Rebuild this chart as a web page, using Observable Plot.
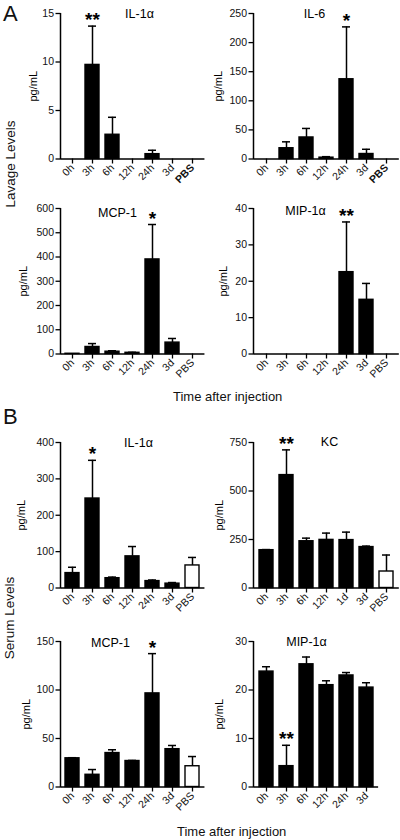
<!DOCTYPE html>
<html>
<head>
<meta charset="utf-8">
<script src="https://cdn.jsdelivr.net/npm/d3@7"></script>
<script src="https://cdn.jsdelivr.net/npm/@observablehq/plot@0.6"></script>
<style>
  html, body { margin: 0; padding: 0; background: #fff; }
  #fig { position: relative; width: 400px; height: 840px; background: #fff; overflow: hidden;
         font-family: "Liberation Sans", Arial, Helvetica, sans-serif; color: #111; }
  .lbl { position: absolute; white-space: nowrap; line-height: 1.15; }
  .rot { transform: translate(-50%, -50%) rotate(-90deg); }
  svg.panel { position: absolute; }
</style>
</head>
<body>
<div id="fig"></div>
<script>
// ---------------- DATA ----------------
const lavageTimes = ["0h", "3h", "6h", "12h", "24h", "3d", "PBS"];
const serumTimes = ["0h", "3h", "6h", "12h", "24h", "3d", "PBS"];
const serumKCTimes = ["0h", "3h", "6h", "12h", "1d", "3d", "PBS"];
const serumMIPTimes = ["0h", "3h", "6h", "12h", "24h", "3d"];

// A: Lavage levels (pg/mL), mean and mean+SEM
const lavIL1aMean  = [0, 9.7, 2.5, 0, 0.5, 0, 0];
const lavIL1aUpper = [null, 13.7, 4.3, null, 0.9, null, null];
const lavIL1aStars = ["", "**", "", "", "", "", ""];
const lavIL1aTicks = [0, 5, 10, 15];

const lavIL6Mean  = [0, 18.5, 37, 2.3, 137, 8.6, 0];
const lavIL6Upper = [null, 29.5, 52.5, 4, 227, 16.7, null];
const lavIL6Stars = ["", "", "", "", "*", "", ""];
const lavIL6Ticks = [0, 50, 100, 150, 200, 250];

const lavMCP1Mean  = [1, 29, 9.5, 5, 390, 47, 0];
const lavMCP1Upper = [null, 43, 13.5, 7, 534, 64, null];
const lavMCP1Stars = ["", "", "", "", "*", "", ""];
const lavMCP1Ticks = [0, 100, 200, 300, 400, 500, 600];

const lavMIP1aMean  = [0, 0, 0, 0, 22.5, 14.9, 0];
const lavMIP1aUpper = [null, null, null, null, 36.3, 19.4, null];
const lavMIP1aStars = ["", "", "", "", "**", "", ""];
const lavMIP1aTicks = [0, 10, 20, 30, 40];

// B: Serum levels (pg/mL)
const serIL1aMean  = [41, 246, 27, 87, 19, 12, 62];
const serIL1aUpper = [57, 351, 30, 114, 22, 15, 84];
const serIL1aStars = ["", "*", "", "", "", "", ""];
const serIL1aTicks = [0, 100, 200, 300, 400];

const serKCMean  = [195, 582, 241, 248, 247, 211, 85];
const serKCUpper = [198, 712, 257, 283, 288, 216, 170];
const serKCStars = ["", "**", "", "", "", "", ""];
const serKCTicks = [0, 250, 500, 750];

const serMCP1Mean  = [29.6, 12.6, 35, 26.8, 96.5, 39, 21.4];
const serMCP1Upper = [30.2, 18, 38.4, 27.4, 137.5, 42.8, 31.4];
const serMCP1Stars = ["", "", "", "", "*", "", ""];
const serMCP1Ticks = [0, 50, 100, 150];

const serMIP1aMean  = [23.8, 4.3, 25.3, 21.0, 23.0, 20.5];
const serMIP1aUpper = [24.8, 8.6, 26.8, 21.9, 23.6, 21.5];
const serMIP1aStars = ["", "**", "", "", "", ""];
const serMIP1aTicks = [0, 10, 20, 30];

const panelTitles = ["IL-1\u03b1", "IL-6", "MCP-1", "MIP-1\u03b1", "IL-1\u03b1", "KC", "MCP-1", "MIP-1\u03b1"];
const yLabel = "pg/mL";
const sectionLetters = ["A", "B"];
const sectionLabels = ["Lavage Levels", "Serum Levels"];
const xLabel = "Time after injection";

// ---------------- LAYOUT ----------------
const fig = document.getElementById("fig");
const FONT = '"Liberation Sans", Arial, Helvetica, sans-serif';

function addLabel(text, left, top, size, extraClass, weight) {
  const d = document.createElement("div");
  d.className = "lbl" + (extraClass ? " " + extraClass : "");
  d.textContent = text;
  d.style.left = left + "px";
  d.style.top = top + "px";
  d.style.fontSize = size + "px";
  if (weight) d.style.fontWeight = weight;
  fig.appendChild(d);
}

function panel(cfg) {
  const {times, mean, upper, stars, ticks, title, left, width, x0, step, po, maxY,
         titleX, titleY, labelX, boldPBS} = cfg;
  const n = times.length;
  const pi = 0.28;
  const marginTop = 10, marginBottom = 44, plotH = 145.5;
  const height = marginTop + plotH + marginBottom;
  const top = maxY - marginTop;
  const marginLeft = x0 - left;
  const marginRight = width - (marginLeft + step * (n - pi + 2 * po));
  const ymax = ticks[ticks.length - 1];
  const rows = times.map((t, i) => ({cat: t, mean: mean[i], upper: upper[i], star: stars[i]}));
  const errRows = rows.filter(d => d.upper != null);
  const starRows = rows.filter(d => d.star);

  const yLine = (index, scales, values, dims) => {
    const ns = "http://www.w3.org/2000/svg";
    const l = document.createElementNS(ns, "line");
    const y0 = typeof scales.y === "function" ? scales.y(0) : dims.height - dims.marginBottom;
    const y1 = typeof scales.y === "function" ? scales.y(ymax) : dims.marginTop;
    l.setAttribute("x1", dims.marginLeft);
    l.setAttribute("x2", dims.marginLeft);
    l.setAttribute("y1", y0 + 0.75);
    l.setAttribute("y2", y1);
    l.setAttribute("stroke", "black");
    l.setAttribute("stroke-width", 1.5);
    return l;
  };

  const svg = Plot.plot({
    width, height, marginLeft, marginRight, marginTop, marginBottom,
    style: {background: "transparent", overflow: "visible", fontFamily: FONT, color: "#111"},
    x: {type: "band", domain: times, paddingInner: pi, paddingOuter: po},
    y: {domain: [0, ymax]},
    color: {type: "identity"},
    marks: [
      Plot.barY(rows, {x: "cat", y: "mean",
        fill: d => d.cat === "PBS" ? "white" : "black", stroke: "black", strokeWidth: 1.4}),
      Plot.ruleX(errRows, {x: "cat", y1: "mean", y2: "upper", stroke: "black", strokeWidth: 1.5}),
      Plot.tickY(errRows, {x: "cat", y: "upper", stroke: "black", strokeWidth: 1.5, insetLeft: 3, insetRight: 3}),
      Plot.ruleY([0], {stroke: "black", strokeWidth: 1.5}),
      yLine,
      Plot.axisY(ticks, {tickSize: 5, tickPadding: 2, fontSize: 10.5, label: null, stroke: "black", strokeWidth: 1.3}),
      Plot.axisX({tickSize: 5, tickPadding: 2, tickRotate: -45, fontSize: 10.5, label: null, stroke: "black", strokeWidth: 1.3}),
      Plot.text(starRows, {x: "cat", y: "upper", text: "star", dy: -6, fontSize: 19, fontWeight: "bold", fill: "black"}),
      Plot.text([title], {frameAnchor: "top-left", dx: titleX - x0, dy: titleY - maxY,
        textAnchor: "middle", lineAnchor: "middle", fontSize: 12.5, fill: "black"}),
      Plot.text([yLabel], {frameAnchor: "left", dx: labelX - x0, rotate: -90,
        textAnchor: "middle", lineAnchor: "middle", fontSize: 11, fill: "black"})
    ]
  });
  svg.classList.add("panel");
  svg.style.position = "absolute";
  svg.style.left = left + "px";
  svg.style.top = top + "px";
  if (boldPBS) {
    d3.select(svg).selectAll("text").filter(function() { return this.textContent === "PBS"; })
      .style("font-weight", "bold");
  }
  fig.appendChild(svg);
}

const L = {left: 0, width: 210, x0: 60.5, step: 20.8, po: 0.1};
const R = {left: 200, width: 200, x0: 253.5, step: 20.7, po: 0.15};

panel({...L, times: lavageTimes, mean: lavIL1aMean, upper: lavIL1aUpper, stars: lavIL1aStars, ticks: lavIL1aTicks,
  title: panelTitles[0], maxY: 12.5, titleX: 139, titleY: 12.5, labelX: 33, boldPBS: true});
panel({...R, times: lavageTimes, mean: lavIL6Mean, upper: lavIL6Upper, stars: lavIL6Stars, ticks: lavIL6Ticks,
  title: panelTitles[1], maxY: 12.5, titleX: 314, titleY: 13, labelX: 218, boldPBS: true});
panel({...L, times: lavageTimes, mean: lavMCP1Mean, upper: lavMCP1Upper, stars: lavMCP1Stars, ticks: lavMCP1Ticks,
  title: panelTitles[2], maxY: 207.5, titleX: 117, titleY: 212, labelX: 23});
panel({...R, times: lavageTimes, mean: lavMIP1aMean, upper: lavMIP1aUpper, stars: lavMIP1aStars, ticks: lavMIP1aTicks,
  title: panelTitles[3], maxY: 207.5, titleX: 305, titleY: 210, labelX: 223});
panel({...L, times: serumTimes, mean: serIL1aMean, upper: serIL1aUpper, stars: serIL1aStars, ticks: serIL1aTicks,
  title: panelTitles[4], maxY: 442, titleX: 138, titleY: 442, labelX: 21});
panel({...R, times: serumKCTimes, mean: serKCMean, upper: serKCUpper, stars: serKCStars, ticks: serKCTicks,
  title: panelTitles[5], maxY: 442, titleX: 329, titleY: 441, labelX: 219});
panel({...L, times: serumTimes, mean: serMCP1Mean, upper: serMCP1Upper, stars: serMCP1Stars, ticks: serMCP1Ticks,
  title: panelTitles[6], maxY: 640.5, titleX: 110, titleY: 642, labelX: 26});
panel({...R, times: serumMIPTimes, mean: serMIP1aMean, upper: serMIP1aUpper, stars: serMIP1aStars, ticks: serMIP1aTicks,
  title: panelTitles[7], maxY: 640.5, titleX: 306, titleY: 641, labelX: 219});

addLabel(sectionLetters[0], 3, 1, 22);
addLabel(sectionLetters[1], 3, 404, 22);
addLabel(sectionLabels[0], 11, 164, 13.5, "rot");
addLabel(sectionLabels[1], 10, 618, 13.5, "rot");
addLabel(xLabel, 173, 390, 13);
addLabel(xLabel, 177, 825, 13);
</script>
</body>
</html>
